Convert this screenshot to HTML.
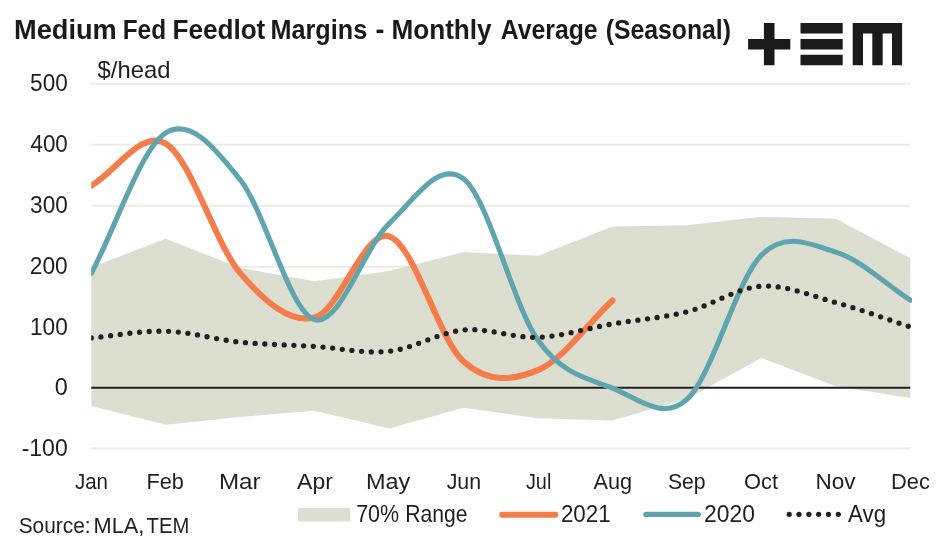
<!DOCTYPE html>
<html lang="en"><head><meta charset="utf-8"><title>Medium Fed Feedlot Margins</title>
<style>
html,body{margin:0;padding:0;background:#fff;}
body{width:947px;height:543px;overflow:hidden;}
svg{display:block;font-family:"Liberation Sans",sans-serif;}
</style></head><body>
<svg width="947" height="543" viewBox="0 0 947 543">
<rect width="947" height="543" fill="#fff"/>
<defs><clipPath id="pc"><rect x="91.2" y="60" width="820.8" height="400"/></clipPath></defs>
<line x1="91.3" x2="910.3" y1="83.8" y2="83.8" stroke="#ecece2" stroke-width="2"/>
<line x1="91.3" x2="910.3" y1="144.8" y2="144.8" stroke="#ecece2" stroke-width="2"/>
<line x1="91.3" x2="910.3" y1="205.8" y2="205.8" stroke="#ecece2" stroke-width="2"/>
<line x1="91.3" x2="910.3" y1="266.8" y2="266.8" stroke="#ecece2" stroke-width="2"/>
<line x1="91.3" x2="910.3" y1="327.3" y2="327.3" stroke="#ecece2" stroke-width="2"/>
<line x1="91.3" x2="910.3" y1="448.6" y2="448.6" stroke="#ecece2" stroke-width="2"/>
<path d="M91.30,267.33 L165.75,238.74 L240.21,267.93 L314.66,281.31 L389.12,270.98 L463.57,252.12 L538.03,255.77 L612.48,226.58 L686.94,225.36 L761.39,216.85 L835.85,218.67 L910.30,258.20 L910.30,398.09 L835.85,386.23 L761.39,357.95 L686.94,398.70 L612.48,420.59 L538.03,418.16 L463.57,407.82 L389.12,428.50 L314.66,410.86 L240.21,416.94 L165.75,424.85 L91.30,406.00 Z" fill="#dcdecf"/>
<line x1="91.3" x2="910.3" y1="387.75" y2="387.75" stroke="#231f20" stroke-width="1.8"/>
<path d="M91.30,185.71 C116.12,171.66 140.94,128.99 165.75,143.56 C190.57,158.12 215.39,244.11 240.21,273.10 C265.03,302.10 289.85,323.64 314.66,317.50 C339.48,311.37 364.30,228.96 389.12,236.31 C413.94,243.66 438.75,339.30 463.57,361.60 C488.39,383.90 513.21,380.30 538.03,370.11 C562.85,359.92 587.66,323.69 612.48,300.47" fill="none" stroke="#f47d4b" stroke-width="6" stroke-linecap="round" stroke-linejoin="round" clip-path="url(#pc)"/>
<path d="M91.30,273.41 C116.12,226.58 140.94,148.52 165.75,132.91 C190.57,117.30 215.39,148.63 240.21,179.75 C265.03,210.87 289.85,312.33 314.66,319.63 C339.48,326.93 364.30,247.00 389.12,223.54 C413.94,200.07 438.75,159.37 463.57,178.83 C488.39,198.30 513.21,305.44 538.03,340.31 C562.85,375.18 587.66,378.22 612.48,388.05 C637.30,397.89 662.12,421.45 686.94,399.31 C711.75,377.16 736.57,279.69 761.39,255.16 C786.21,230.63 811.03,244.62 835.85,252.12 C860.66,259.62 885.48,284.15 910.30,300.17" fill="none" stroke="#5fa5af" stroke-width="5.1" stroke-linecap="round" stroke-linejoin="round" clip-path="url(#pc)"/>
<path d="M91.30,337.88 C116.12,335.65 140.94,330.48 165.75,331.19 C190.57,331.90 215.39,339.60 240.21,342.13 C265.03,344.67 289.85,344.87 314.66,346.39 C339.48,347.91 364.30,353.99 389.12,351.26 C413.94,348.52 438.75,332.30 463.57,329.97 C488.39,327.64 513.21,338.28 538.03,337.27 C562.85,336.26 587.66,328.15 612.48,323.89 C637.30,319.63 662.12,318.01 686.94,311.73 C711.75,305.44 736.57,287.70 761.39,286.18 C786.21,284.66 811.03,295.81 835.85,302.60 C860.66,309.39 885.48,318.82 910.30,326.93" fill="none" stroke="#231f20" stroke-width="5.3" stroke-linecap="round" stroke-dasharray="0 9.71" clip-path="url(#pc)"/>
<g>
<text transform="translate(14.03,39.2) scale(1.0076,1)" font-size="27.0" font-weight="bold" fill="#1a1a1a">Medium</text>
<text transform="translate(122.72,39.2) scale(0.9028,1)" font-size="27.0" font-weight="bold" fill="#1a1a1a">Fed</text>
<text transform="translate(172.50,39.2) scale(0.9674,1)" font-size="27.0" font-weight="bold" fill="#1a1a1a">Feedlot</text>
<text transform="translate(270.56,39.2) scale(0.9334,1)" font-size="27.0" font-weight="bold" fill="#1a1a1a">Margins</text>
<text transform="translate(375.43,39.2) scale(0.9877,1)" font-size="27.0" font-weight="bold" fill="#1a1a1a">-</text>
<text transform="translate(391.40,39.2) scale(0.9693,1)" font-size="27.0" font-weight="bold" fill="#1a1a1a">Monthly</text>
<text transform="translate(500.78,39.2) scale(0.9168,1)" font-size="27.0" font-weight="bold" fill="#1a1a1a">Average</text>
<text transform="translate(605.66,39.2) scale(0.9185,1)" font-size="27.0" font-weight="bold" fill="#1a1a1a">(Seasonal)</text>
</g>
<text transform="translate(97.56,77.6) scale(1.0107,1)" font-size="23.6" fill="#1f1f1f">$/head</text>
<text transform="translate(30.10,91.35) scale(0.9372,1)" font-size="24.1" fill="#1f1f1f">500</text>
<text transform="translate(30.44,152.17) scale(0.9284,1)" font-size="24.1" fill="#1f1f1f">400</text>
<text transform="translate(30.10,212.99) scale(0.9372,1)" font-size="24.1" fill="#1f1f1f">300</text>
<text transform="translate(29.86,273.81) scale(0.9432,1)" font-size="24.1" fill="#1f1f1f">200</text>
<text transform="translate(30.00,334.63) scale(0.9396,1)" font-size="24.1" fill="#1f1f1f">100</text>
<text transform="translate(54.77,395.45) scale(0.9696,1)" font-size="24.1" fill="#1f1f1f">0</text>
<text transform="translate(21.66,456.27) scale(0.9555,1)" font-size="24.1" fill="#1f1f1f">-100</text>
<text transform="translate(74.89,488.7) scale(0.9001,1)" font-size="22.8" fill="#1f1f1f">Jan</text>
<text transform="translate(146.57,488.7) scale(0.9485,1)" font-size="22.8" fill="#1f1f1f">Feb</text>
<text transform="translate(218.97,488.7) scale(1.0607,1)" font-size="22.8" fill="#1f1f1f">Mar</text>
<text transform="translate(297.09,488.7) scale(1.0058,1)" font-size="22.8" fill="#1f1f1f">Apr</text>
<text transform="translate(366.02,488.7) scale(1.0303,1)" font-size="22.8" fill="#1f1f1f">May</text>
<text transform="translate(446.68,488.7) scale(0.9374,1)" font-size="22.8" fill="#1f1f1f">Jun</text>
<text transform="translate(525.90,488.7) scale(0.8735,1)" font-size="22.8" fill="#1f1f1f">Jul</text>
<text transform="translate(593.59,488.7) scale(0.9516,1)" font-size="22.8" fill="#1f1f1f">Aug</text>
<text transform="translate(667.95,488.7) scale(0.9289,1)" font-size="22.8" fill="#1f1f1f">Sep</text>
<text transform="translate(744.02,488.7) scale(0.9588,1)" font-size="22.8" fill="#1f1f1f">Oct</text>
<text transform="translate(815.40,488.7) scale(0.9885,1)" font-size="22.8" fill="#1f1f1f">Nov</text>
<text transform="translate(890.95,488.7) scale(0.9610,1)" font-size="22.8" fill="#1f1f1f">Dec</text>
<g>
<text transform="translate(18.66,533.0) scale(0.9576,1)" font-size="21.8" fill="#1f1f1f">Source:</text>
<text transform="translate(93.56,533.0) scale(0.9979,1)" font-size="21.8" fill="#1f1f1f">MLA,</text>
<text transform="translate(146.60,533.0) scale(0.9266,1)" font-size="21.8" fill="#1f1f1f">TEM</text>
</g>
<rect x="298" y="508" width="52.2" height="13.5" fill="#dcdecf"/>
<g>
<text transform="translate(356.13,522.0) scale(0.8796,1)" font-size="24.4" fill="#1f1f1f">70%</text>
<text transform="translate(405.31,522.0) scale(0.9032,1)" font-size="23.4" fill="#1f1f1f">Range</text>
</g>
<line x1="502.2" x2="555.4" y1="514.7" y2="514.7" stroke="#f47d4b" stroke-width="6" stroke-linecap="round"/>
<text transform="translate(560.88,522.1) scale(0.9161,1)" font-size="24.4" fill="#1f1f1f">2021</text>
<line x1="645.8" x2="698.4" y1="514.4" y2="514.4" stroke="#5fa5af" stroke-width="5.1" stroke-linecap="round"/>
<text transform="translate(704.06,522.1) scale(0.9368,1)" font-size="24.4" fill="#1f1f1f">2020</text>
<line x1="789.2" x2="839" y1="514.3" y2="514.3" stroke="#231f20" stroke-width="5.3" stroke-linecap="round" stroke-dasharray="0 9.82"/>
<text transform="translate(847.99,521.8) scale(0.9540,1)" font-size="23.4" fill="#1f1f1f">Avg</text>
<g>
<path d="M763.9,23.1 L774.5,23.1 L774.5,38.9 L790.3,38.9 L790.3,49.6 L774.5,49.6 L774.5,65.3 L763.9,65.3 L763.9,49.6 L748.1,49.6 L748.1,38.9 L763.9,38.9 Z" fill="#1a1a1a"/>
<path d="M800.5,23.1 L842.7,23.1 L842.7,33.5 L800.5,33.5 Z" fill="#1a1a1a"/>
<path d="M800.5,38.9 L842.7,38.9 L842.7,49.6 L800.5,49.6 Z" fill="#1a1a1a"/>
<path d="M800.5,54.8 L842.7,54.8 L842.7,65.3 L800.5,65.3 Z" fill="#1a1a1a"/>
<path d="M852.7,23.1 L902.1,23.1 L902.1,65.3 L892.0,65.3 L892.0,33.5 L882.7,33.5 L882.7,65.3 L872.3,65.3 L872.3,33.5 L863.0,33.5 L863.0,65.3 L852.7,65.3 Z" fill="#1a1a1a"/>
</g>
</svg>
</body></html>
